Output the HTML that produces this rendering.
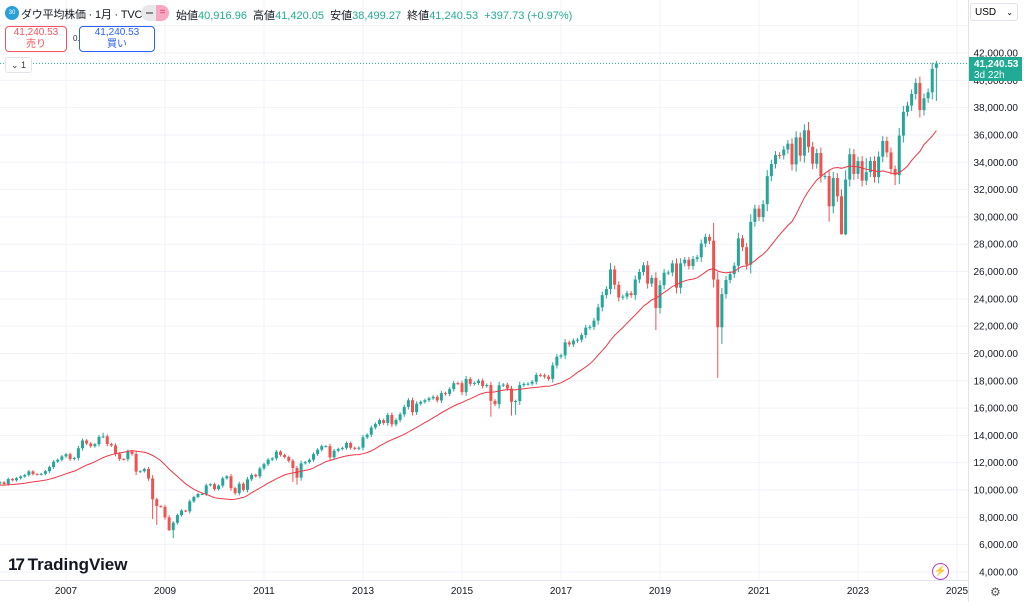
<!DOCTYPE html>
<html><head><meta charset="utf-8"><style>
body{margin:0;width:1024px;height:602px;overflow:hidden;background:#fff;font-family:"Liberation Sans","Noto Sans CJK JP",sans-serif;position:relative}
.a{position:absolute;white-space:nowrap}
</style></head><body>
<svg id="s" width="1024" height="602" style="position:absolute;left:0;top:0"></svg>
<div class="a" style="left:5px;top:6px;width:14px;height:14px;border-radius:50%;background:#2a9fd8;color:#fff;font-size:6px;line-height:14px;text-align:center">30</div>
<div class="a" style="left:21px;top:6px;font-size:11px;letter-spacing:-0.2px;color:#131722">ダウ平均株価 · 1月 · TVC</div>
<div class="a" style="left:141px;top:5px;width:28px;height:16px;border-radius:8px;background:#e8e8ec"></div>
<div class="a" style="left:156px;top:5px;width:13px;height:16px;border-radius:0 8px 8px 0;background:#f5a8c0;color:#d63a6f;font-size:10px;line-height:16px;text-align:center">=</div>
<div class="a" style="left:146px;top:12px;width:7px;height:2px;background:#888"></div>
<div class="a" style="left:176px;top:7px;font-size:11px;color:#131722">始値<span style="color:#22ab94">40,916.96</span>&nbsp; 高値<span style="color:#22ab94">41,420.05</span>&nbsp; 安値<span style="color:#22ab94">38,499.27</span>&nbsp; 終値<span style="color:#22ab94">41,240.53</span>&nbsp; <span style="color:#22ab94">+397.73 (+0.97%)</span></div>
<div class="a" style="left:5px;top:26px;width:60px;height:24px;border:1px solid #f7525f;border-radius:4px;color:#f7525f;font-size:10px;text-align:center;line-height:12px;background:#fff">41,240.53<br>売り</div>
<div class="a" style="left:73px;top:34px;font-size:8px;color:#333">0.00</div>
<div class="a" style="left:79px;top:26px;width:74px;height:24px;border:1px solid #2962ff;border-radius:4px;color:#2962ff;font-size:10px;text-align:center;line-height:12px;background:#fff">41,240.53<br>買い</div>
<div class="a" style="left:5px;top:57px;width:25px;height:14px;border:1px solid #e0e3eb;border-radius:3px;font-size:9px;color:#333;line-height:14px;text-align:center;background:#fff">⌄ 1</div>
<div class="a" style="left:970px;top:3px;width:48px;height:18px;border:1px solid #e0e3eb;border-radius:3px;font-size:10px;line-height:18px;padding-left:4px;box-sizing:border-box;background:#fff">USD<span style="position:absolute;right:4px;font-size:8px">⌄</span></div>
<div class="a" style="left:969px;top:57px;width:53px;height:24px;background:#22ab94;color:#fff;font-size:10px;line-height:11px;padding:2px 0 0 5px;box-sizing:border-box;font-weight:bold">41,240.53<br><span style="font-weight:normal">3d 22h</span></div>
<div class="a" style="left:8px;top:555px;font-size:17px;font-weight:bold;color:#131722"><span style="letter-spacing:-2px">17</span> <span style="font-weight:bold">TradingView</span></div>
<div class="a" style="left:932px;top:563px;width:15px;height:15px;border:1.5px solid #b040d0;border-radius:50%;color:#b040d0;font-size:10px;line-height:15px;text-align:center">⚡</div>
<div class="a" style="left:990px;top:585px;font-size:12px;color:#555">⚙</div>
<script>
var C=[10569,10440,10806,10718,
10865,10993,11109,11367,11168,11150,11186,11381,11679,12081,12221,12463,
12622,12269,12354,13063,13628,13409,13212,13358,13896,13930,13372,13265,
12650,12266,12263,12820,12638,11350,11378,11544,10851,9325,8829,8776,
8001,7063,7609,8168,8500,8447,9172,9496,9712,9713,10345,10428,
10067,10325,10857,11009,10137,9774,10466,10015,10788,11118,11006,11578,
11892,12226,12320,12811,12570,12414,12143,11614,10913,11955,12046,12218,
12633,12952,13212,13214,12393,12880,13009,13091,13437,13096,13026,13104,
13861,14054,14579,14840,15116,14910,15500,14810,15130,15546,16086,16577,
15699,16322,16458,16581,16717,16827,16563,17098,17043,17391,17828,17823,
17165,18133,17776,17841,18011,17620,17690,16528,16285,17664,17720,17425,
16466,16517,17685,17774,17787,17930,18432,18401,18308,18142,19124,19763,
19864,20812,20663,20941,21009,21350,21891,21948,22405,23377,24272,24719,
26149,25029,24103,24163,24416,24271,25415,25965,26458,25116,25538,23327,
24999,25916,25929,26593,24815,26600,26864,26403,26917,27046,28051,28538,
28256,25409,21917,24346,25383,25813,26428,28430,27782,26502,29638,30606,
29983,30932,32982,33875,34529,34503,34935,35361,33844,35820,34484,36338,
35132,33893,34678,32977,32990,30775,32845,31510,28726,32733,34590,33147,
34086,32657,33274,34098,32908,34408,35560,34722,33508,33053,35951,37690,
38150,38996,39807,37816,38686,39119,40842,41240];
var L={37:7882,38:7449,41:7000,42:6470,119:15370,124:15450,125:15503,159:21712,174:18214,175:20700,205:28660,204:28715,201:29653,217:32327,227:38499,71:10600,72:10400};
var H={25:14198,173:29568,196:36952,227:41420,148:26616,210:34300};
function y(p){return 572-(p-4000)*519/38000}
function x(i){return 66+(i-16)*4.125}
var s='';
for(var v=4000;v<=44000;v+=2000){var yy=y(v);s+='<line x1="0" x2="968" y1="'+yy+'" y2="'+yy+'" stroke="#f0f3fa"/>';
if(v<44000)s+='<text x="1018" y="'+(yy+3.5)+'" font-size="10" text-anchor="end" fill="#131722">'+v.toLocaleString('en-US')+'.00</text>';}
for(var yr=2007;yr<=2025;yr+=2){var xx=66+(yr-2007)*49.5;s+='<line x1="'+xx+'" x2="'+xx+'" y1="0" y2="580" stroke="#f0f3fa"/><text x="'+xx+'" y="594" font-size="10" text-anchor="middle" fill="#131722">'+yr+'</text>';}
s+='<line x1="968.5" x2="968.5" y1="0" y2="602" stroke="#e0e3eb"/><line x1="0" x2="968" y1="580.5" y2="580.5" stroke="#e0e3eb"/>';
s+='<line x1="0" x2="968" y1="'+y(41240)+'" y2="'+y(41240)+'" stroke="#22ab94" stroke-dasharray="1,2"/>';
var ma='';
for(var i=0;i<C.length;i++){var o=i?C[i-1]:10480;if(i==227)o=40917;var c=C[i];
var hi=Math.max(o,c),lo=Math.min(o,c),r=Math.abs(c-o)*0.2+c*0.01;
var h=H[i]||hi+r*0.6,l=L[i]||lo-r*0.7;
var col=c>=o?'#26a69a':'#ef5350',xx=x(i);
s+='<line x1="'+xx+'" x2="'+xx+'" y1="'+y(h)+'" y2="'+y(l)+'" stroke="'+col+'" stroke-width="1"/>';
var t=y(hi),b=y(lo);if(b-t<1)b=t+1;
s+='<rect x="'+(xx-1.5)+'" y="'+t+'" width="3" height="'+(b-t)+'" fill="'+col+'"/>';
var n=Math.min(20,i+1),sm=0;for(var k=i-n+1;k<=i;k++)sm+=C[k];
var m=sm/n;if(i<19)m=(sm+(20-n)*10350)/20;
ma+=(i?'L':'M')+xx.toFixed(1)+','+y(m).toFixed(1);}
s+='<path d="'+ma+'" fill="none" stroke="#f23645" stroke-width="1"/>';
document.getElementById('s').innerHTML=s;
</script>
</body></html>
